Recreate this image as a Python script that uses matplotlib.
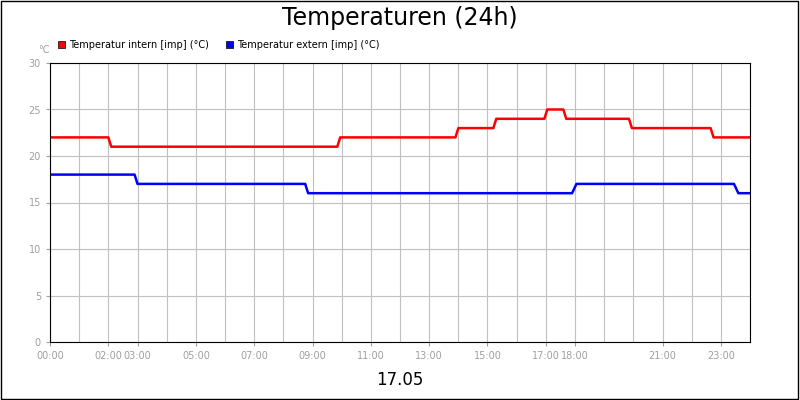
import matplotlib
matplotlib.use("Agg")
import matplotlib.pyplot as plt

t_int = [0, 2.0, 2.1, 9.85, 9.95, 13.9, 14.0, 15.2, 15.3, 16.95, 17.05, 17.6, 17.7, 19.85, 19.95, 22.65, 22.75, 24]
v_int = [22, 22, 21, 21, 22, 22, 23, 23, 24, 24, 25, 25, 24, 24, 23, 23, 22, 22]
t_ext = [0, 2.9, 3.0, 8.75, 8.85, 17.9, 18.05, 23.45, 23.6, 24]
v_ext = [18, 18, 17, 17, 16, 16, 17, 17, 16, 16]
tick_hours = [0, 2, 3, 5, 7, 9, 11, 13, 15, 17, 18, 21, 23]
tick_labels = ["%02d:00" % h for h in tick_hours]

fig = plt.figure(figsize=(8, 4), dpi=100)
fig.patch.set_facecolor("white")
fig.add_artist(plt.Rectangle((0.001, 0.002), 0.997, 0.996, transform=fig.transFigure, fill=False, edgecolor="black", lw=1))
ax = fig.add_axes([50/800, 58/400, 700/800, 279/400])
ax.plot(t_int, v_int, color="#ff0000", lw=1.8)
ax.plot(t_ext, v_ext, color="#0000ff", lw=1.8)
ax.set_xlim(0, 24)
ax.set_ylim(0, 30)
ax.set_xticks(range(25), minor=True)
ax.set_xticks(tick_hours)
ax.set_xticklabels(tick_labels)
ax.set_yticks(range(0, 31, 5))
ax.grid(True, which="both", axis="x", color="#c0c0c0", lw=0.8)
ax.grid(True, axis="y", color="#c0c0c0", lw=0.8)
ax.tick_params(labelsize=7, colors="#a0a0a0", labelcolor="#a0a0a0", length=3)
ax.tick_params(which="minor", length=0)
for s in ax.spines.values():
    s.set_color("black")
fig.text(0.5, 0.955, "Temperaturen (24h)", ha="center", va="center", fontsize=17)
fig.text(0.5, 0.05, "17.05", ha="center", va="center", fontsize=12)
fig.text(38/800, 0.875, "°C", fontsize=7, color="#a0a0a0", va="center")
fig.add_artist(plt.Rectangle((58/800, 352/400), 7/800, 7/400, transform=fig.transFigure, facecolor="#ff0000", edgecolor="black", lw=0.5))
fig.text(69/800, 355.5/400, "Temperatur intern [imp] (°C)", fontsize=7, va="center")
fig.add_artist(plt.Rectangle((226/800, 352/400), 7/800, 7/400, transform=fig.transFigure, facecolor="#0000ff", edgecolor="black", lw=0.5))
fig.text(237/800, 355.5/400, "Temperatur extern [imp] (°C)", fontsize=7, va="center")
fig.savefig("out.png", dpi=100)
